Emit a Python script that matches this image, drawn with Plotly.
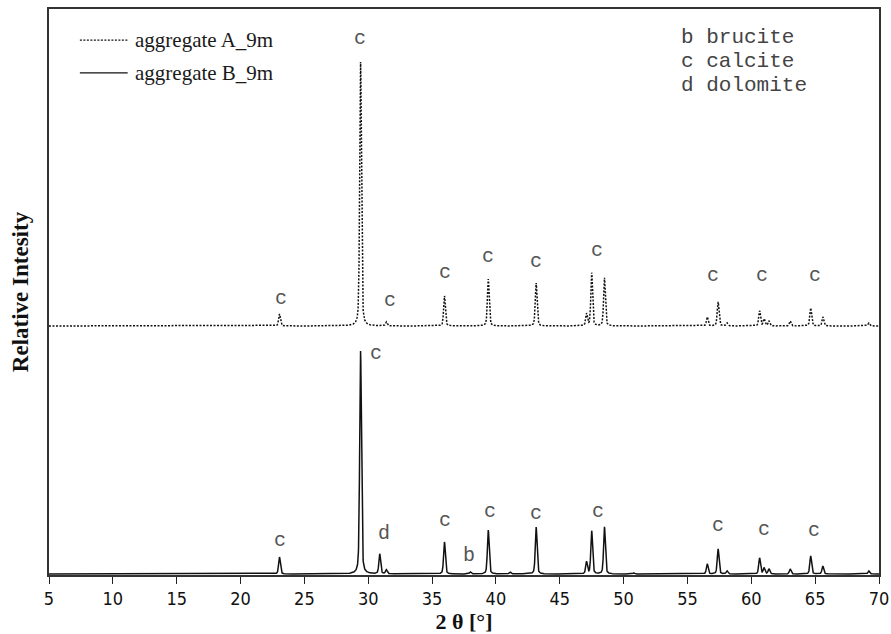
import numpy as np
import plotly.graph_objects as go

# 2θ scan range (degrees)
two_theta_min, two_theta_max = 5.0, 70.0
tick_vals = [5, 10, 15, 20, 25, 30, 35, 40, 45, 50, 55, 60, 65, 70]

# aggregate A_9m: reflection positions (2θ, °) and peak intensities (relative units)
a_pos = [23.05, 29.40, 31.42, 35.97, 39.40, 43.15, 47.10, 47.50, 48.50,
         56.55, 57.40, 58.10, 60.65, 61.00, 61.38, 63.05, 64.65, 65.60, 69.20]
a_int = [12, 264, 4, 30, 47, 43, 12, 53, 48,
         9, 24, 3, 15, 7, 5, 5, 18, 9, 3]

# aggregate B_9m: reflection positions (2θ, °) and peak intensities (relative units)
b_pos = [23.05, 29.40, 30.90, 31.42, 35.97, 38.00, 39.40, 41.10, 43.15, 47.10, 47.50,
         48.50, 50.80, 56.55, 57.40, 58.10, 60.65, 61.00, 61.38, 63.05, 64.65, 65.60, 69.20]
b_int = [17, 223, 20, 4, 32, 2, 44, 2, 47, 12, 43,
         47, 1, 10, 25, 3, 16, 6, 5, 5, 18, 8, 3]

# vertical offset of the A pattern above the B pattern
a_offset = 248

# phase labels: (2θ, height, letter)
a_labels_x = [23.14, 29.38, 31.69, 36.00, 39.36, 43.13, 47.94, 56.99, 60.82, 64.95]
a_labels_y = [276, 536, 274, 302, 318, 313, 324, 299, 299, 299]
a_labels_t = ["c", "c", "c", "c", "c", "c", "c", "c", "c", "c"]

b_labels_x = [23.06, 30.62, 31.25, 35.98, 37.93, 39.57, 43.13, 48.00, 57.40, 61.02, 64.92]
b_labels_y = [34, 221, 41, 54, 19, 63, 61, 63, 49, 45, 44]
b_labels_t = ["c", "c", "d", "c", "b", "c", "c", "c", "c", "c", "c"]

phase_key = ["b brucite", "c calcite", "d dolomite"]
series_names = ["aggregate A_9m", "aggregate B_9m"]


def pattern(theta, positions, intensities, fwhm=0.16, eta=0.4):
    """Sum of pseudo-Voigt reflections on a flat baseline."""
    y = np.zeros_like(theta)
    sigma = fwhm / (2 * np.sqrt(2 * np.log(2)))
    gamma = fwhm / 2
    for p, h in zip(positions, intensities):
        d = theta - p
        g = np.exp(-0.5 * (d / sigma) ** 2)
        lor = gamma ** 2 / (d ** 2 + gamma ** 2)
        y += h * ((1 - eta) * g + eta * lor)
    return y


theta = np.round(np.arange(two_theta_min, two_theta_max + 0.005, 0.01), 3)
y_a = a_offset + pattern(theta, a_pos, a_int)
y_b = pattern(theta, b_pos, b_int)

fig = go.Figure()
fig.add_trace(go.Scatter(x=theta, y=y_a, mode="lines", name=series_names[0],
                         line=dict(color="#111111", width=1.5, dash="2px,1.5px"),
                         showlegend=False))
fig.add_trace(go.Scatter(x=theta, y=y_b, mode="lines", name=series_names[1],
                         line=dict(color="#111111", width=1.5),
                         showlegend=False))

label_font = dict(family="Liberation Mono, DejaVu Sans Mono, monospace", size=20, color="#555555")
for xs, ys, ts in ((a_labels_x, a_labels_y, a_labels_t), (b_labels_x, b_labels_y, b_labels_t)):
    for lx, ly, lt in zip(xs, ys, ts):
        fig.add_annotation(x=lx, y=ly, xref="x", yref="y", text=lt, showarrow=False,
                           font=label_font, xanchor="center", yanchor="middle")

# legend swatches and names
legend_font = dict(family="Liberation Serif, Times New Roman, serif", size=21, color="#1a1a1a")
for i, (name, dash) in enumerate(zip(series_names, ["2px,1.5px", "solid"])):
    yy = 0.945 - i * 0.058
    fig.add_shape(type="line", xref="paper", yref="paper", x0=0.0372, x1=0.0948, y0=yy, y1=yy,
                  line=dict(color="#111111", width=1.3, dash=dash))
    fig.add_annotation(x=0.101, y=yy, xref="paper", yref="paper", text=name, showarrow=False,
                       font=legend_font, xanchor="left", yanchor="middle")

# phase key
key_font = dict(family="Liberation Mono, DejaVu Sans Mono, monospace", size=21, color="#444444")
for i, entry in enumerate(phase_key):
    fig.add_annotation(x=0.759, y=0.9505 - i * 0.0424, xref="paper", yref="paper",
                       text=entry.replace(" ", "\u00a0"), showarrow=False, font=key_font,
                       xanchor="left", yanchor="middle")

fig.update_layout(
    width=891, height=634,
    margin=dict(l=49, r=12, t=9, b=59),
    paper_bgcolor="white", plot_bgcolor="white",
    showlegend=False,
)
fig.update_xaxes(
    range=[two_theta_min, two_theta_max], tickvals=tick_vals, automargin=False,
    ticklabeloverflow="allow",
    ticks="outside", ticklen=7, tickwidth=1.2, tickcolor="#222222",
    showline=True, linecolor="#333333", linewidth=1.5, mirror=True,
    showgrid=False, zeroline=False,
    tickfont=dict(family="DejaVu Sans Condensed, Liberation Sans Narrow, Liberation Sans, sans-serif",
                  size=18, color="#111111"),
    title=dict(text="<b>2 θ [°]</b>", standoff=2,
               font=dict(family="Liberation Serif, Times New Roman, serif", size=22, color="#111111")),
)
fig.update_yaxes(
    range=[-1, 565], showticklabels=False, ticks="", automargin=False,
    showline=True, linecolor="#333333", linewidth=1.5, mirror=True,
    showgrid=False, zeroline=False,
    title=dict(text="<b>Relative Intesity</b>", standoff=12,
               font=dict(family="Liberation Serif, Times New Roman, serif", size=23, color="#111111")),
)

fig.write_html("out.html")
